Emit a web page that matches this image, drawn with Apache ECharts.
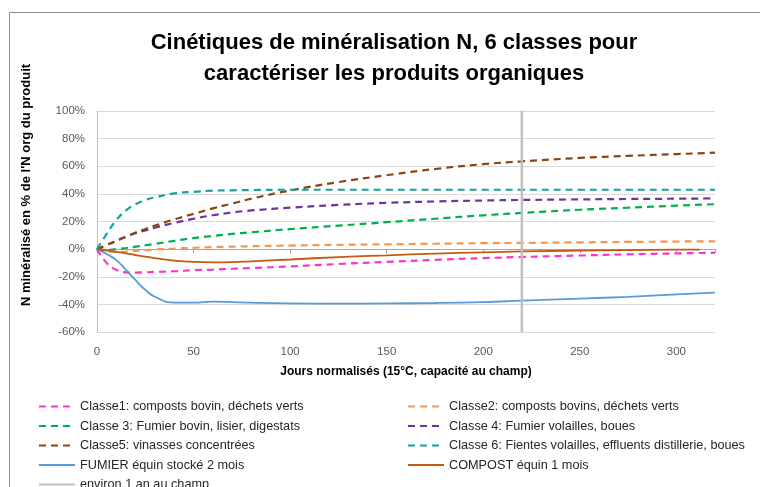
<!DOCTYPE html>
<html>
<head>
<meta charset="utf-8">
<script src="https://cdn.jsdelivr.net/npm/echarts@6/dist/echarts.min.js"></script>
<style>
  html, body { margin: 0; padding: 0; background: #fff; }
  #chart { width: 760px; height: 487px; }
</style>
</head>
<body>
<div id="chart"></div>
<script>
// jours normalisés
var days = [0, 5, 10, 15, 20, 25, 30, 40, 50, 60, 70, 80, 100, 125, 150, 175, 200, 220, 250, 275, 300, 320];
var compostDays = [0, 5, 10, 15, 20, 25, 30, 40, 50, 60, 70, 80, 100, 125, 150, 175, 200, 220, 250, 275, 300, 312];

// N minéralisé (%)
var classe1 = [0, -10, -15, -16.8, -17, -16.8, -16.5, -16, -15.3, -14.8, -14.2, -13.7, -12.5, -10.8, -9.2, -7.8, -6.5, -5.7, -4.6, -3.8, -3.1, -2.6];
var classe2 = [0, -1.5, -2, -1.8, -1.2, -0.8, -0.3, 0.4, 1, 1.5, 1.8, 2.1, 2.6, 3.1, 3.5, 3.9, 4.3, 4.5, 4.9, 5.2, 5.5, 5.7];
var classe3 = [0, -0.5, 0, 0.8, 1.8, 2.8, 3.8, 6, 8, 9.5, 11, 12.2, 14.5, 17, 19.5, 22, 24.5, 26.2, 28.5, 30, 31.5, 32.5];
var classe4 = [0, 3, 6, 9, 11.5, 13.5, 15.5, 19, 22, 24.5, 26.5, 28, 30, 32, 33.5, 34.5, 35.2, 35.6, 36, 36.3, 36.5, 36.7];
var classe5 = [0, 3, 6, 9, 12, 14.5, 17, 21.5, 25.5, 29.5, 33, 36.5, 42.5, 48.5, 53.5, 58, 61.5, 63.5, 66, 67.5, 68.8, 69.8];
var classe6 = [0, 11, 21, 28, 32.5, 35.5, 37.5, 40.3, 41.5, 42.3, 42.6, 42.8, 43, 43, 43, 43, 43, 43, 43, 43, 43, 43];
var fumier = [0, -3.5, -8, -15, -22.5, -29.5, -34.5, -38.8, -38.8, -38, -38.3, -38.8, -39.3, -39.5, -39.3, -39, -38.3, -37.3, -35.8, -34.5, -32.8, -31.5];
var compost = [0, -1, -2, -3, -4.3, -5.5, -6.5, -8.3, -9.3, -9.6, -9.4, -8.8, -7.5, -5.8, -4.5, -3.3, -2.3, -1.7, -1.1, -0.7, -0.4, -0.3];
var unAnX = [220, 220];
var unAnY = [-60, 100];

var names = [
  "Classe1: composts bovin, déchets verts",
  "Classe2: composts bovins, déchets verts",
  "Classe 3: Fumier bovin, lisier, digestats",
  "Classe 4: Fumier volailles, boues",
  "Classe5: vinasses concentrées",
  "Classe 6: Fientes volailles, effluents distillerie, boues",
  "FUMIER équin stocké 2 mois",
  "COMPOST équin 1 mois",
  "environ 1 an au champ"
];

function pairs(xs, ys) {
  return xs.map(function (x, i) { return [x, ys[i]]; });
}

function ligne(name, xs, ys, color, dashed) {
  return {
    name: name,
    type: "line",
    smooth: true,
    symbol: "none",
    data: pairs(xs, ys),
    lineStyle: { color: color, width: dashed ? 2.2 : 1.8, type: dashed ? [7, 5] : "solid" },
    itemStyle: { color: color }
  };
}

var chart = echarts.init(document.getElementById("chart"));
var legendText = { fontFamily: "Liberation Sans, sans-serif", fontSize: 12.7, color: "#262626" };

function legende(left, top, data) {
  return {
    orient: "vertical", left: left, top: top, padding: 0,
    itemWidth: 36, itemHeight: 14, itemGap: 6.5,
    itemStyle: { opacity: 0 },
    textStyle: legendText,
    data: data
  };
}

var option = {
  animation: false,
  title: {
    text: "Cinétiques de minéralisation N, 6 classes pour\ncaractériser les produits organiques",
    left: 389,
    textAlign: "center",
    top: 22,
    textStyle: { fontFamily: "Liberation Sans, sans-serif", fontSize: 22, fontWeight: "bold", color: "#000", lineHeight: 31 }
  },
  graphic: [
    {
      type: "rect",
      shape: { x: 9.5, y: 12.5, width: 760, height: 480 },
      style: { fill: "none", stroke: "#8c8c8c", lineWidth: 1 },
      silent: true
    },
    {
      type: "text",
      x: 26, y: 185, rotation: Math.PI / 2,
      style: {
        text: "N minéralisé en % de l'N org du produit",
        fontFamily: "Liberation Sans, sans-serif", fontSize: 13, fontWeight: "bold", fill: "#000",
        align: "center", verticalAlign: "middle"
      },
      silent: true
    }
  ],
  // deux colonnes de légende
  legend: [
    legende(38, 400, [names[0], names[2], names[4], names[6]]),
    legende(407, 400, [names[1], names[3], names[5], names[7]]),
    legende(38, 478, [names[8]])
  ],
  grid: { left: 97, right: 45, top: 111, bottom: 155 },
  xAxis: [
    {
      type: "value", min: 0, max: 320, interval: 50,
      name: "Jours normalisés (15°C, capacité au champ)",
      nameLocation: "middle", nameGap: 34,
      nameTextStyle: { fontFamily: "Liberation Sans, sans-serif", fontSize: 12, fontWeight: "bold", color: "#000" },
      axisLine: { show: false, onZero: false },
      axisTick: { show: false },
      splitLine: { show: false },
      axisLabel: { color: "#595959", fontSize: 11.5, margin: 14, showMaxLabel: false, fontFamily: "Liberation Sans, sans-serif" }
    },
    {
      // axe horizontal au niveau 0%
      type: "value", min: 0, max: 320, interval: 50, position: "bottom",
      axisLine: { show: true, onZero: true, lineStyle: { color: "#a6a6a6", width: 1 } },
      axisTick: { show: true, length: 4, lineStyle: { color: "#a6a6a6" } },
      axisLabel: { show: false },
      splitLine: { show: false }
    }
  ],
  yAxis: {
    type: "value", min: -60, max: 100, interval: 20,
    axisLine: { show: true, lineStyle: { color: "#bfbfbf", width: 1 } },
    axisTick: { show: false },
    axisLabel: { formatter: "{value}%", color: "#595959", fontSize: 11.5, margin: 12, fontFamily: "Liberation Sans, sans-serif" },
    splitLine: { lineStyle: { color: "#d9d9d9", width: 1 } }
  },
  series: [
    ligne(names[0], days, classe1, "#ff33cc", true),
    ligne(names[1], days, classe2, "#f79646", true),
    ligne(names[2], days, classe3, "#00b050", true),
    ligne(names[3], days, classe4, "#7030a0", true),
    ligne(names[4], days, classe5, "#8b4513", true),
    ligne(names[5], days, classe6, "#17a2a0", true),
    ligne(names[6], days, fumier, "#5b9bd5", false),
    ligne(names[7], compostDays, compost, "#c55a11", false),
    {
      name: names[8],
      type: "line",
      symbol: "none",
      data: pairs(unAnX, unAnY),
      lineStyle: { color: "#bfbfbf", width: 2.5 },
      itemStyle: { color: "#bfbfbf" }
    }
  ]
};

chart.setOption(option);
</script>
</body>
</html>
